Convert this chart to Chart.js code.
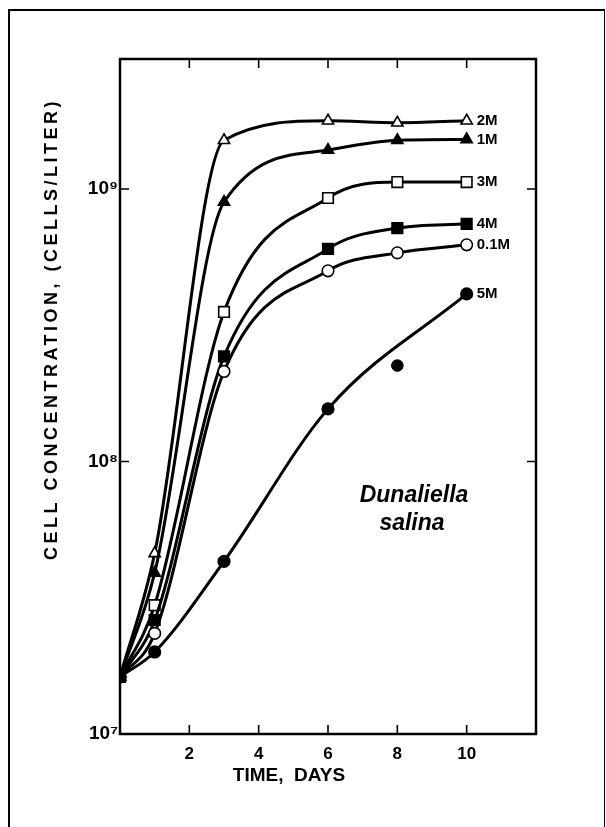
<!DOCTYPE html>
<html>
<head>
<meta charset="utf-8">
<script src="https://cdn.jsdelivr.net/npm/chart.js@4.4.1/dist/chart.umd.min.js"></script>
<style>
  html, body { margin: 0; padding: 0; background: #fff; }
  #wrap { position: relative; width: 606px; height: 827px; }
  #frame {
    position: absolute; left: 8px; top: 9px; width: 594px; height: 830px;
    border-left: 2px solid #000; border-top: 2px solid #000; border-right: 1px solid #000;
  }
  canvas { position: absolute; left: 0; top: 0; }
</style>
</head>
<body>
<div id="wrap">
  <div id="frame"></div>
  <canvas id="growthChart" width="606" height="827"></canvas>
</div>
<script>
// days sampled
const days = [0, 1, 3, 6, 8, 10];
const days5M = [0, 1, 3, 6, 10];

// cell counts (cells / liter) per NaCl concentration
const conc2M  = [1.62e7, 4.6e7, 1.51e9, 1.78e9, 1.75e9, 1.78e9];
const conc1M  = [1.62e7, 3.9e7, 8.96e8, 1.39e9, 1.51e9, 1.52e9];
const conc3M  = [1.62e7, 2.97e7, 3.54e8, 9.27e8, 1.06e9, 1.06e9];
const conc4M  = [1.62e7, 2.62e7, 2.43e8, 6.03e8, 7.19e8, 7.45e8];
const conc01M = [1.62e7, 2.34e7, 2.14e8, 5.01e8, 5.83e8, 6.24e8];
const conc5M  = [1.62e7, 2.0e7, 4.3e7, 1.56e8, 4.12e8];
// day 8 reading for 5M, off the fitted curve
const outlier5MDay = [8];
const outlier5M = [2.25e8];

const xTicks = [2, 4, 6, 8, 10];
const yTicks = [1e7, 1e8, 1e9];
const yTickLabels = ["10\u2077", "10\u2078", "10\u2079"];

const FONT = "'Liberation Sans', Arial, sans-serif";

function pts(xs, ys) {
  return xs.map((x, i) => ({ x: x, y: ys[i] }));
}

function series(label, xs, ys, style, open) {
  let r = 5.8;
  if (style === "triangle") r = 6.5;
  if (style === "rect") r = 7.5;
  return {
    label: label,
    data: pts(xs, ys),
    showLine: true,
    borderColor: "#000",
    borderWidth: 3,
    cubicInterpolationMode: "monotone",
    pointStyle: style,
    pointRadius: r,
    pointBorderWidth: 1.6,
    pointBorderColor: "#000",
    pointBackgroundColor: open ? "#fff" : "#000"
  };
}

// inward tick marks + heavy frame around the plot
const framePlugin = {
  id: "frame",
  afterDatasetsDraw(chart) {
    const { ctx, chartArea: a, scales } = chart;
    ctx.save();
    ctx.strokeStyle = "#000";
    ctx.lineWidth = 1.6;
    ctx.beginPath();
    scales.x.ticks.forEach(t => {
      const px = scales.x.getPixelForValue(t.value);
      ctx.moveTo(px, a.bottom); ctx.lineTo(px, a.bottom - 9);
      ctx.moveTo(px, a.top); ctx.lineTo(px, a.top + 9);
    });
    scales.y.ticks.forEach(t => {
      if (t.value <= scales.y.min) return;
      const py = scales.y.getPixelForValue(t.value);
      ctx.moveTo(a.left, py); ctx.lineTo(a.left + 9, py);
      ctx.moveTo(a.right, py); ctx.lineTo(a.right - 9, py);
    });
    ctx.stroke();
    ctx.lineWidth = 2.5;
    ctx.strokeRect(a.left, a.top, a.right - a.left, a.bottom - a.top);
    ctx.restore();
  }
};

// series names at the end of each curve, axis titles and species name
const textPlugin = {
  id: "texts",
  afterDraw(chart) {
    const { ctx, chartArea: a } = chart;
    ctx.save();
    ctx.fillStyle = "#000";

    ctx.font = "bold 15px " + FONT;
    ctx.textAlign = "left";
    ctx.textBaseline = "middle";
    chart.data.datasets.forEach((ds, i) => {
      if (!ds.endLabel) return;
      const meta = chart.getDatasetMeta(i);
      const last = meta.data[meta.data.length - 1];
      ctx.fillText(ds.endLabel, last.x + 10, last.y);
    });

    // x title
    ctx.font = "bold 19px " + FONT;
    ctx.textAlign = "center";
    ctx.fillText("TIME,  DAYS", a.left + 169, a.bottom + 42);

    // y title
    ctx.save();
    ctx.translate(52, a.top + 270);
    ctx.rotate(-Math.PI / 2);
    ctx.font = "bold 18px " + FONT;
    ctx.letterSpacing = "3.5px";
    ctx.fillText("CELL CONCENTRATION, (CELLS/LITER)", 0, 0);
    ctx.restore();

    // species
    ctx.font = "italic bold 23px " + FONT;
    ctx.textAlign = "center";
    ctx.fillText("Dunaliella", a.left + 294, a.top + 437);
    ctx.fillText("salina", a.left + 292, a.top + 465);
    ctx.restore();
  }
};

const datasets = [
  series("5M", days5M, conc5M, "circle", false),
  {
    label: "5M day 8",
    data: pts(outlier5MDay, outlier5M),
    showLine: false,
    pointStyle: "circle",
    pointRadius: 5.8,
    pointBorderColor: "#000",
    pointBackgroundColor: "#000"
  },
  series("0.1M", days, conc01M, "circle", true),
  series("4M", days, conc4M, "rect", false),
  series("3M", days, conc3M, "rect", true),
  series("1M", days, conc1M, "triangle", false),
  series("2M", days, conc2M, "triangle", true)
];
datasets.forEach(ds => { if (!ds.label.includes("day")) ds.endLabel = ds.label; });

new Chart(document.getElementById("growthChart"), {
  type: "scatter",
  data: { datasets: datasets },
  options: {
    responsive: false,
    devicePixelRatio: 1,
    animation: false,
    layout: { padding: { left: 0, top: 59, right: 70, bottom: 0 } },
    plugins: {
      legend: { display: false },
      tooltip: { enabled: false }
    },
    scales: {
      x: {
        type: "linear",
        min: 0,
        max: 12,
        afterBuildTicks: s => { s.ticks = xTicks.map(v => ({ value: v })); },
        afterFit: s => { s.height = 93; },
        grid: { display: false, drawTicks: false },
        border: { display: false },
        ticks: {
          color: "#000",
          padding: 10,
          font: { family: FONT, size: 17, weight: "bold" }
        }
      },
      y: {
        type: "logarithmic",
        min: 1e7,
        max: 3e9,
        afterBuildTicks: s => { s.ticks = yTicks.map(v => ({ value: v })); },
        afterFit: s => { s.width = 120; },
        grid: { display: false, drawTicks: false },
        border: { display: false },
        ticks: {
          color: "#000",
          padding: 2,
          font: { family: FONT, size: 19, weight: "bold" },
          callback: (v) => yTickLabels[yTicks.indexOf(v)]
        }
      }
    }
  },
  plugins: [framePlugin, textPlugin]
});
</script>
</body>
</html>
